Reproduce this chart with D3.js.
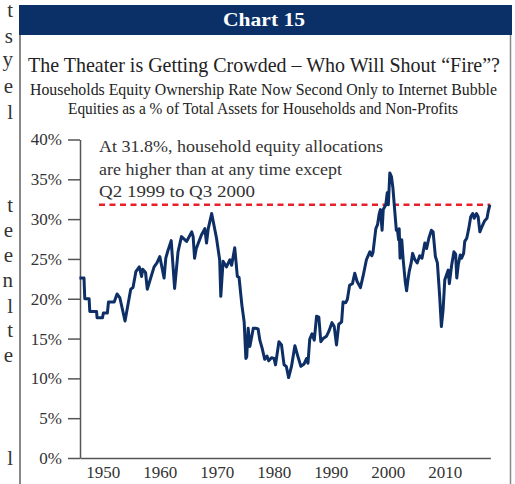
<!DOCTYPE html>
<meta charset="utf-8">
<style>
body { margin: 0; background: #fff; }
svg { display: block; font-family: "Liberation Serif", "Times New Roman", serif; }
.axis path, .axis line { stroke: #555; stroke-width: 1.5; }
.axis text { fill: #333; font-size: 17px; font-family: "Liberation Serif", serif; }
</style>
<svg width="515" height="484"></svg>
<script src="https://d3js.org/d3.v7.min.js"></script>
<script>
// values (year, % of total assets)
var years = [1945.9,1946.7,1946.84,1947.6,1947.72,1948.9,1949.0,1949.95,1950.1,1950.8,1951.0,1952.0,1952.5,1953.0,1953.9,
  1954.9,1955.3,1955.8,1956.4,1956.8,1957.0,1957.5,1957.8,1959.0,1959.5,1960.0,1960.75,1961.05,1961.45,1962.0,1962.6,
  1963.2,1963.8,1964.7,1965.6,1965.85,1966.1,1966.4,1967.3,1967.9,1968.2,1968.5,1969.1,1969.95,1970.5,1970.7,1971.1,
  1971.7,1972.3,1972.6,1973.15,1973.6,1973.9,1974.4,1974.8,1975.1,1975.25,1975.5,1975.8,1976.4,1976.8,1977.25,1977.55,
  1977.95,1978.4,1978.8,1979.1,1979.6,1980.05,1980.3,1980.9,1981.35,1981.8,1982.2,1982.6,1983.1,1983.7,1984.25,1984.75,
  1985.3,1985.75,1986.0,1986.3,1986.7,1987.1,1987.5,1987.9,1988.25,1988.65,1989.25,1989.65,1990.2,1990.6,1991.0,1991.4,
  1991.9,1992.15,1992.6,1992.9,1993.3,1993.8,1994.2,1994.6,1995.2,1995.65,1996.25,1996.85,1997.2,1997.4,1997.9,1998.2,
  1998.5,1998.7,1999.0,1999.2,1999.65,1999.9,2000.1,2000.35,2000.65,2000.9,2001.2,2001.5,2001.7,2001.9,2002.0,2002.15,
  2002.45,2002.7,2003.05,2003.3,2003.5,2003.75,2004.1,2004.35,2004.75,2005.15,2005.6,2006.0,2006.5,2006.8,2007.2,2007.65,
  2007.95,2008.35,2008.7,2009.1,2009.4,2009.7,2010.0,2010.4,2010.6,2010.8,2011.2,2011.6,2011.9,2012.1,2012.35,2012.7,
  2012.95,2013.3,2013.5,2013.85,2014.2,2014.55,2014.9,2015.15,2015.55,2015.85,2016.15,2016.55,2017.0,2017.4,2017.6,2017.9];
var equityShare = [22.6,22.6,20.0,20.0,18.4,18.4,17.6,17.6,18.2,18.2,19.6,19.6,20.6,20.1,17.2,
  21.2,21.4,23.4,24.0,22.8,23.7,23.3,21.2,24.0,24.5,25.3,22.6,25.1,26.1,27.3,21.3,
  25.9,27.8,27.2,28.4,27.8,25.1,26.3,28.0,28.8,27.0,28.8,30.7,27.6,24.9,20.3,24.7,
  24.0,24.9,24.2,26.4,22.8,22.7,19.2,17.1,12.5,12.7,16.3,14.0,16.3,16.3,16.2,14.8,
  13.8,12.4,12.8,12.2,12.6,12.5,11.7,14.6,14.2,11.7,11.5,10.1,11.5,14.1,12.7,11.5,
  11.8,12.5,11.9,14.9,15.6,14.8,17.8,17.7,14.6,15.0,15.3,15.9,17.0,16.5,14.2,16.8,
  17.1,19.6,19.5,19.9,21.7,21.9,23.2,22.2,21.4,22.8,24.9,25.9,25.4,25.8,28.8,29.3,
  30.7,31.2,28.6,31.2,31.8,33.3,31.8,35.8,35.3,33.9,31.2,28.6,28.6,27.4,28.8,25.1,
  27.4,24.9,22.2,21.0,22.2,23.4,24.5,25.7,24.9,24.5,25.4,25.1,27.0,26.3,27.6,28.6,
  28.4,25.3,24.5,20.3,16.5,18.6,22.4,23.2,23.6,21.9,24.2,25.9,25.6,22.6,24.2,25.5,
  25.1,25.7,27.2,27.6,28.8,30.3,30.7,30.1,30.7,30.3,28.4,29.1,29.8,30.1,30.9,31.8];
var currentLevel = 31.8;
var yTicks = [0, 5, 10, 15, 20, 25, 30, 35, 40];
var xTicks = [1950, 1960, 1970, 1980, 1990, 2000, 2010];
var noteLines = ["At 31.8%, household equity allocations", "are higher than at any time except", "Q2 1999 to Q3 2000"];

var svg = d3.select("svg");

// bits of the neighbouring column, cut off by the page
var edgeLetters = [["t",17],["s",43],["y",66],["e",93],["l",119],["t",212],["e",237],["e",262],["n",287],["l",313],["t",337],["e",362],["l",465]];
svg.append("g").selectAll("text").data(edgeLetters).enter().append("text")
    .attr("x", 13).attr("y", function(d) { return d[1]; })
    .attr("text-anchor", "end").style("font-size", "21px").style("fill", "#333")
    .text(function(d) { return d[0]; });

// frame
svg.append("rect").attr("x", 19).attr("y", 5).attr("width", 493).attr("height", 30).attr("fill", "#0b3068");
svg.append("line").attr("x1", 20).attr("x2", 20).attr("y1", 35).attr("y2", 484).attr("stroke", "#888").attr("stroke-width", 2);
svg.append("line").attr("x1", 510.5).attr("x2", 510.5).attr("y1", 35).attr("y2", 484).attr("stroke", "#888").attr("stroke-width", 1.5);

svg.append("text").attr("x", 264).attr("y", 26).attr("text-anchor", "middle")
    .attr("textLength", 82).attr("lengthAdjust", "spacingAndGlyphs")
    .style("font-size", "19px").style("font-weight", "bold").style("fill", "#fff").text("Chart 15");

svg.append("text").attr("x", 264).attr("y", 72).attr("text-anchor", "middle")
    .attr("textLength", 472).attr("lengthAdjust", "spacingAndGlyphs")
    .style("font-size", "21px").style("fill", "#222")
    .text("The Theater is Getting Crowded \u2013 Who Will Shout \u201CFire\u201D?");
svg.append("text").attr("x", 263.5).attr("y", 95).attr("text-anchor", "middle")
    .attr("textLength", 467).attr("lengthAdjust", "spacingAndGlyphs")
    .style("font-size", "16px").style("fill", "#222")
    .text("Households Equity Ownership Rate Now Second Only to Internet Bubble");
svg.append("text").attr("x", 263).attr("y", 114).attr("text-anchor", "middle")
    .attr("textLength", 390).attr("lengthAdjust", "spacingAndGlyphs")
    .style("font-size", "16px").style("fill", "#222")
    .text("Equities as a % of Total Assets for Households and Non-Profits");

var x = d3.scaleLinear().domain([1946, 2018]).range([80, 490.4]);
var y = d3.scaleLinear().domain([0, 40]).range([458, 139.5]);

svg.append("g").attr("class", "axis").attr("transform", "translate(80,0)")
    .call(d3.axisLeft(y).tickValues(yTicks).tickSize(12).tickSizeOuter(0).tickPadding(6)
      .tickFormat(function(d) { return d + "%"; }));
svg.append("g").attr("class", "axis").attr("transform", "translate(0,458)")
    .call(d3.axisBottom(x).tickValues(xTicks).tickSize(0).tickSizeOuter(0).tickPadding(8).tickFormat(d3.format("d")));

// note
svg.append("g").selectAll("text").data(noteLines).enter().append("text")
    .attr("x", 99).attr("y", function(d, i) { return 152 + i * 22.5; })
    .attr("textLength", function(d, i) { return [284, 243, 156][i]; })
    .attr("lengthAdjust", "spacingAndGlyphs")
    .style("font-size", "17px").style("fill", "#333").text(function(d) { return d; });

svg.append("line").attr("x1", 99).attr("x2", x(2018))
    .attr("y1", y(currentLevel)).attr("y2", y(currentLevel))
    .attr("stroke", "#e8202a").attr("stroke-width", 2.5).attr("stroke-dasharray", "6,4.5");

var line = d3.line()
    .x(function(d, i) { return x(years[i]); })
    .y(function(d) { return y(d); });

svg.append("path").datum(equityShare)
    .attr("fill", "none").attr("stroke", "#0d2f66").attr("stroke-width", 3)
    .attr("stroke-linejoin", "round").attr("d", line);
</script>
